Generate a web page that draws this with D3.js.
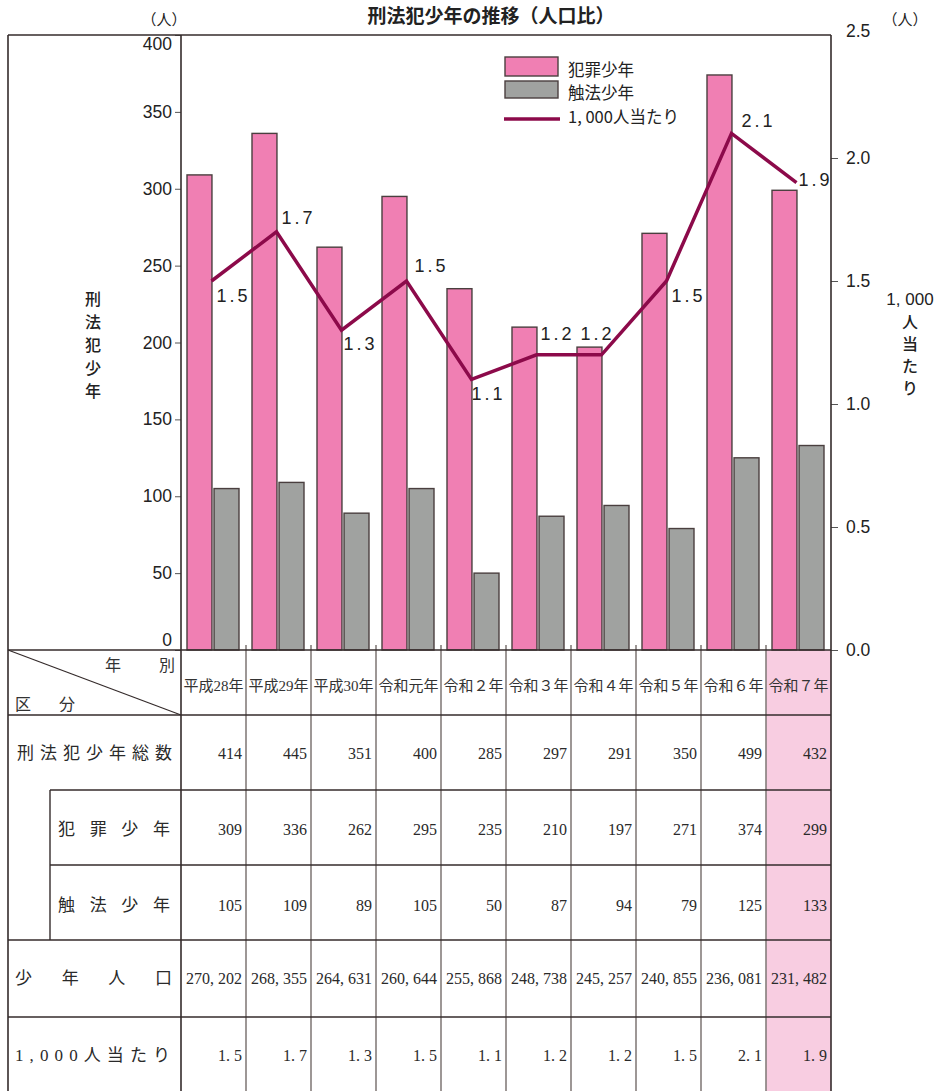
<!DOCTYPE html>
<html lang="ja">
<head>
<meta charset="utf-8">
<script src="https://cdn.jsdelivr.net/npm/d3@7"></script>
<style>
  html, body { margin: 0; padding: 0; background: #fff; }
  svg { display: block; }
</style>
</head>
<body>
<svg id="chart" width="944" height="1091"></svg>
<script>
// ---- data ----
const categories = ['平成28年', '平成29年', '平成30年', '令和元年', '令和２年', '令和３年', '令和４年', '令和５年', '令和６年', '令和７年'];
const totalJuveniles = [414, 445, 351, 400, 285, 297, 291, 350, 499, 432];
const offenders = [309, 336, 262, 295, 235, 210, 197, 271, 374, 299];
const lawViolators = [105, 109, 89, 105, 50, 87, 94, 79, 125, 133];
const juvenilePopulation = [270202, 268355, 264631, 260644, 255868, 248738, 245257, 240855, 236081, 231482];
const ratePer1000 = [1.5, 1.7, 1.3, 1.5, 1.1, 1.2, 1.2, 1.5, 2.1, 1.9];
const leftTicks = [0, 50, 100, 150, 200, 250, 300, 350, 400];
const rightTicks = [0, 0.5, 1.0, 1.5, 2.0, 2.5];
const seriesNames = ['犯罪少年', '触法少年', '1, 000人当たり'];

// ---- layout / style ----
const frameLeft = 8, plotLeft = 181, plotRight = 831, plotTop = 35, plotBottom = 650;
const tableBottom = 1091;
const pink = '#f07fb3', grey = '#a0a2a0', lineColor = '#8c0a4a';
const dark = '#342b2b', gridGrey = '#857d7b', highlight = '#f8cde1';
const sansNum = '"Liberation Sans Narrow", "Liberation Sans", "Noto Sans CJK JP", sans-serif';
const sansJa = '"Noto Sans CJK JP", sans-serif';
const serif = '"Liberation Serif", "Noto Sans CJK JP", serif';

// per-point offsets of the rate labels (dx, dy from the point)
const rateLabelOffsets = [[5, 15], [5, -14], [2, 14], [8, -15], [0, 15], [4, -21], [-21, -21], [5, 15], [10, -12], [2, -3]];

const svg = d3.select('#chart');

const x = d3.scaleBand().domain(categories).range([plotLeft, plotRight]).padding(0);
const xInner = d3.scaleBand().domain(['offenders', 'violators']).range([6, 58]).paddingInner(2 / 26).paddingOuter(0);
const yLeft = d3.scaleLinear().domain([0, 400]).range([plotBottom, plotTop]);
const yRight = d3.scaleLinear().domain([0, 2.5]).range([plotBottom, plotTop]);

// ---- highlighted latest-year column in the table ----
svg.append('rect')
  .attr('x', x('令和７年')).attr('y', plotBottom)
  .attr('width', x.bandwidth()).attr('height', tableBottom - plotBottom)
  .attr('fill', highlight);

// ---- bars ----
const barG = svg.append('g');
barG.selectAll('rect.off').data(categories).join('rect')
  .attr('class', 'off')
  .attr('x', d => x(d) + xInner('offenders'))
  .attr('y', (d, i) => yLeft(offenders[i]))
  .attr('width', xInner.bandwidth())
  .attr('height', (d, i) => yLeft(0) - yLeft(offenders[i]))
  .attr('fill', pink).attr('stroke', '#4a3f3f').attr('stroke-width', 1.4);
barG.selectAll('rect.vio').data(categories).join('rect')
  .attr('class', 'vio')
  .attr('x', d => x(d) + xInner('violators'))
  .attr('y', (d, i) => yLeft(lawViolators[i]))
  .attr('width', xInner.bandwidth())
  .attr('height', (d, i) => yLeft(0) - yLeft(lawViolators[i]))
  .attr('fill', grey).attr('stroke', '#4a3f3f').attr('stroke-width', 1.4);

// ---- rate line ----
const lineX = d => x(d) + 30.5;
const rateLine = d3.line().x((d, i) => lineX(categories[i])).y(d => yRight(d));
svg.append('path').datum(ratePer1000)
  .attr('d', rateLine)
  .attr('fill', 'none').attr('stroke', lineColor).attr('stroke-width', 3.5)
  .attr('stroke-linejoin', 'miter');

svg.append('g').selectAll('text').data(ratePer1000).join('text')
  .attr('x', (d, i) => lineX(categories[i]) + rateLabelOffsets[i][0])
  .attr('y', (d, i) => yRight(d) + rateLabelOffsets[i][1])
  .attr('dominant-baseline', 'central')
  .attr('font-family', sansNum).attr('font-size', 18)
  .attr('letter-spacing', 3).attr('fill', '#222')
  .text(d => d3.format('.1f')(d));

// ---- axes ----
const leftAxis = d3.axisLeft(yLeft).tickValues(leftTicks).tickSize(6).tickSizeOuter(0);
const gL = svg.append('g').attr('transform', `translate(${plotLeft},0)`).call(leftAxis);
gL.select('.domain').remove();
gL.selectAll('.tick line').attr('stroke', '#555');
gL.selectAll('.tick text')
  .attr('x', -9)
  .attr('font-family', sansNum).attr('font-size', 17.5).attr('fill', '#222')
  .attr('dy', d => d === 0 ? '-0.25em' : d === 400 ? '0.85em' : '0.32em');

const rightAxis = d3.axisRight(yRight).tickValues(rightTicks).tickSize(7).tickSizeOuter(0).tickFormat(d3.format('.1f'));
const gR = svg.append('g').attr('transform', `translate(${plotRight},0)`).call(rightAxis);
gR.select('.domain').remove();
gR.selectAll('.tick line').attr('stroke', '#555');
gR.selectAll('.tick text')
  .attr('x', 15)
  .attr('font-family', sansNum).attr('font-size', 17.5).attr('fill', '#222')
  .attr('dy', d => d === 2.5 ? '0.1em' : '0.32em');
gR.selectAll('.tick').filter(d => d === 2.5).select('line').remove();

// ---- frame lines of the chart ----
const frame = svg.append('g').attr('stroke', dark).attr('stroke-width', 1.6).attr('fill', 'none');
frame.append('line').attr('x1', frameLeft).attr('x2', plotRight).attr('y1', plotTop).attr('y2', plotTop);
frame.append('line').attr('x1', plotLeft).attr('x2', plotLeft).attr('y1', plotTop).attr('y2', tableBottom);
frame.append('line').attr('x1', plotRight).attr('x2', plotRight).attr('y1', plotTop).attr('y2', tableBottom);
frame.append('line').attr('x1', frameLeft).attr('x2', frameLeft).attr('y1', plotTop).attr('y2', tableBottom);

// ---- titles ----
svg.append('text').attr('x', 491).attr('y', 14).attr('text-anchor', 'middle')
  .attr('dominant-baseline', 'central')
  .attr('font-family', sansJa).attr('font-size', 19).attr('font-weight', 700).attr('fill', '#222')
  .text('刑法犯少年の推移（人口比）');
svg.append('text').attr('x', 164).attr('y', 18).attr('text-anchor', 'middle')
  .attr('dominant-baseline', 'central')
  .attr('font-family', sansJa).attr('font-size', 15).attr('fill', '#222').text('（人）');
svg.append('text').attr('x', 905).attr('y', 18).attr('text-anchor', 'middle')
  .attr('dominant-baseline', 'central')
  .attr('font-family', sansJa).attr('font-size', 15).attr('fill', '#222').text('（人）');

// vertical axis titles
const leftTitle = '刑法犯少年'.split('');
svg.append('g').selectAll('text').data(leftTitle).join('text')
  .attr('x', 93).attr('y', (d, i) => 298 + i * 23)
  .attr('text-anchor', 'middle').attr('dominant-baseline', 'central')
  .attr('font-family', sansJa).attr('font-size', 16).attr('font-weight', 500).attr('fill', '#222')
  .text(d => d);
const rightTitle = ['1, 000', '人', '当', 'た', 'り'];
svg.append('g').selectAll('text').data(rightTitle).join('text')
  .attr('x', 910).attr('y', (d, i) => 299 + i * 22)
  .attr('text-anchor', 'middle').attr('dominant-baseline', 'central')
  .attr('font-family', (d, i) => i === 0 ? sansNum : sansJa)
  .attr('font-size', (d, i) => i === 0 ? 17 : 16).attr('font-weight', 500).attr('fill', '#222')
  .text(d => d);

// ---- legend ----
const legend = svg.append('g').attr('transform', 'translate(505,0)');
legend.append('rect').attr('x', 0).attr('y', 57).attr('width', 53).attr('height', 19)
  .attr('fill', pink).attr('stroke', '#4a3f3f').attr('stroke-width', 1.4);
legend.append('rect').attr('x', 0).attr('y', 81).attr('width', 53).attr('height', 17)
  .attr('fill', grey).attr('stroke', '#4a3f3f').attr('stroke-width', 1.4);
legend.append('line').attr('x1', -1).attr('x2', 55).attr('y1', 119).attr('y2', 119)
  .attr('stroke', lineColor).attr('stroke-width', 3.5);
legend.selectAll('text').data(seriesNames).join('text')
  .attr('x', 63).attr('y', (d, i) => [69, 92, 116][i])
  .attr('dominant-baseline', 'central')
  .attr('font-family', sansJa).attr('font-size', 16.5).attr('fill', '#222')
  .text(d => d);

// ---- data table ----
const rowCenters = [753, 829, 905, 978, 1055];
const table = svg.append('g');

// column separators
table.selectAll('line.col').data(categories.slice(1)).join('line')
  .attr('class', 'col')
  .attr('x1', d => x(d)).attr('x2', d => x(d))
  .attr('y1', plotBottom - 5).attr('y2', tableBottom)
  .attr('stroke', gridGrey).attr('stroke-width', 1.6);

// row separators
const hLines = [
  [frameLeft, 650], [frameLeft, 715], [50, 790], [50, 865], [frameLeft, 940], [frameLeft, 1017]
];
table.selectAll('line.row').data(hLines).join('line')
  .attr('class', 'row')
  .attr('x1', d => d[0]).attr('x2', plotRight)
  .attr('y1', d => d[1]).attr('y2', d => d[1])
  .attr('stroke', dark).attr('stroke-width', 1.6);
table.append('line').attr('x1', 50).attr('x2', 50).attr('y1', 790).attr('y2', 940)
  .attr('stroke', dark).attr('stroke-width', 1.4);
table.append('line').attr('x1', frameLeft).attr('x2', plotLeft).attr('y1', 650).attr('y2', 715)
  .attr('stroke', dark).attr('stroke-width', 1.2);

// header cells
table.append('text').attr('x', 105).attr('y', 664).attr('dominant-baseline', 'central')
  .attr('font-family', sansJa).attr('font-weight', 400).attr('font-size', 16).attr('fill', '#333')
  .attr('textLength', 70).attr('lengthAdjust', 'spacing').text('年　別');
table.append('text').attr('x', 15).attr('y', 703).attr('dominant-baseline', 'central')
  .attr('font-family', sansJa).attr('font-weight', 400).attr('font-size', 16).attr('fill', '#333')
  .attr('textLength', 60).attr('lengthAdjust', 'spacing').text('区　分');
table.selectAll('text.cat').data(categories).join('text')
  .attr('class', 'cat')
  .attr('x', d => x(d) + x.bandwidth() / 2).attr('y', 686)
  .attr('text-anchor', 'middle').attr('dominant-baseline', 'central')
  .attr('font-family', serif).attr('font-weight', 400).attr('font-size', 15).attr('fill', '#333')
  .text(d => d);

// row headers
const rowHeaders = [
  { text: '刑法犯少年総数', x: 17, len: 155 },
  { text: '犯罪少年', x: 58, len: 112 },
  { text: '触法少年', x: 58, len: 112 },
  { text: '少年人口', x: 15, len: 157 },
  { text: '1,000人当たり', x: 15, len: 155 }
];
table.selectAll('text.rowhead').data(rowHeaders).join('text')
  .attr('class', 'rowhead')
  .attr('x', d => d.x).attr('y', (d, i) => rowCenters[i])
  .attr('dominant-baseline', 'central')
  .attr('font-family', serif).attr('font-weight', 400).attr('font-size', 17).attr('fill', '#2a2a2a')
  .attr('textLength', d => d.len).attr('lengthAdjust', 'spacing')
  .text(d => d.text);

// value cells
const fmtPop = v => d3.format(',')(v).replace(',', ', ');
const tableRows = [
  totalJuveniles.map(String),
  offenders.map(String),
  lawViolators.map(String),
  juvenilePopulation.map(fmtPop),
  ratePer1000.map(v => d3.format('.1f')(v).replace('.', '. '))
];
tableRows.forEach((row, r) => {
  table.append('g').selectAll('text').data(row).join('text')
    .attr('x', (d, i) => x(categories[i]) + x.bandwidth() - 4)
    .attr('y', rowCenters[r])
    .attr('text-anchor', 'end').attr('dominant-baseline', 'central')
    .attr('font-family', serif).attr('font-size', 16).attr('fill', '#2a2a2a')
    .text(d => d);
});
</script>
</body>
</html>
